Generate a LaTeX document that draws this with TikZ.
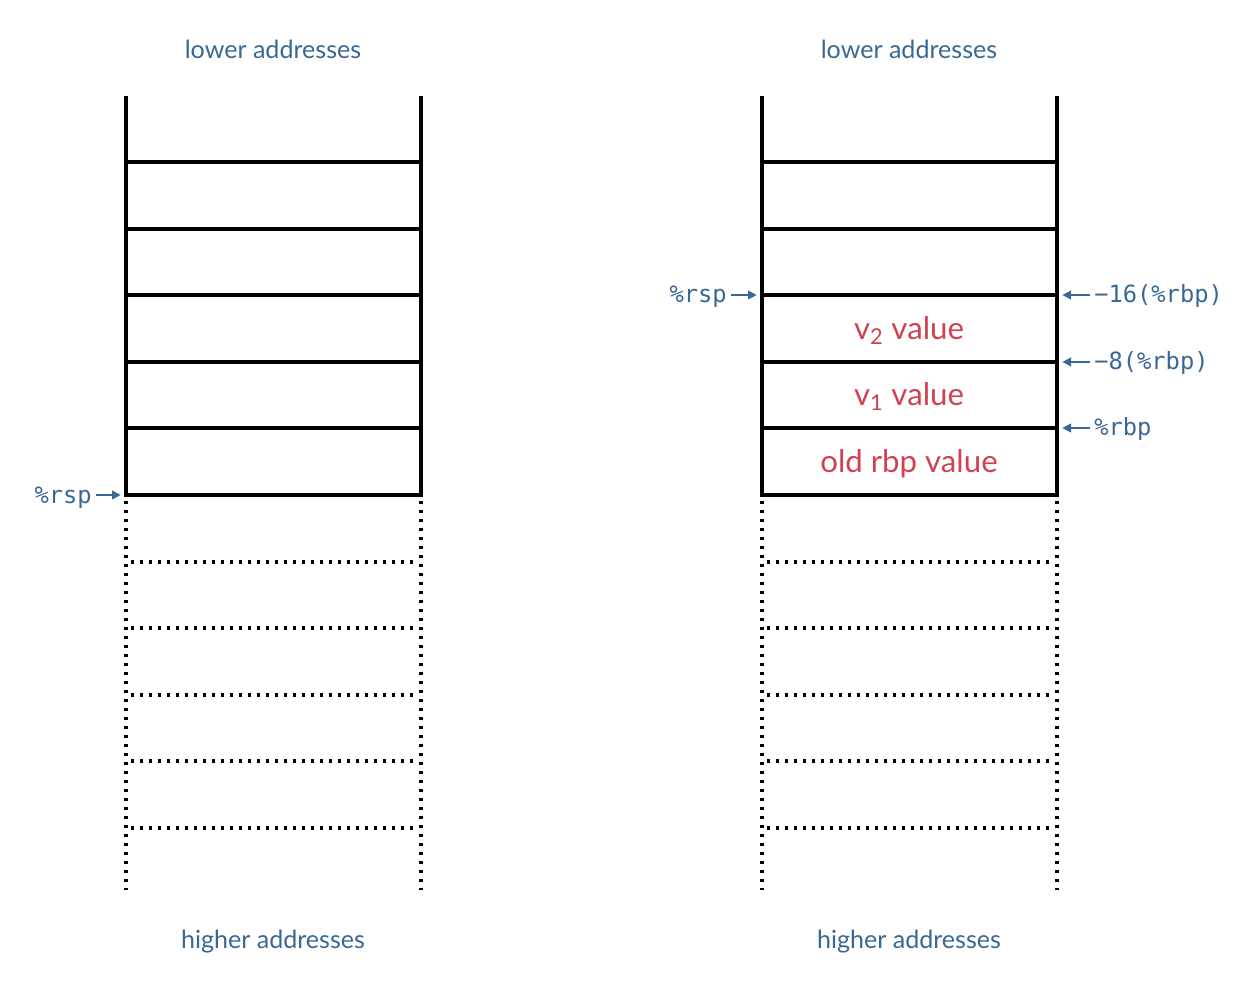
\documentclass[tikz,border=0pt]{standalone}
\usepackage{fontspec}
\setmainfont{Lato}
\setmonofont{DejaVu Sans Mono}
\usetikzlibrary{arrows.meta}
\definecolor{lblue}{RGB}{58,104,148}
\definecolor{lred}{RGB}{208,66,82}
\tikzset{
  px/.style={x=0.75pt,y=-0.75pt},
  wall/.style={line width=2.3pt,line cap=rect},
  dotwall/.style={line width=2.3pt,dash pattern=on 2.3pt off 4.45pt},
  addr/.style={text=lblue,font=\fontsize{18.8}{22}\selectfont},
  cell/.style={text=lred,font=\fontsize{23.4}{26}\selectfont},
  reg/.style={text=lblue,font=\ttfamily\fontsize{17.8}{20}\selectfont,inner sep=0pt},
  ptr/.style={draw=lblue,line width=1.3pt,-{Triangle[length=6.5pt,width=6.5pt]}},
}
\begin{document}
\begin{tikzpicture}[px]
\useasboundingbox (0,0) rectangle (1243,994);
% ---------- stacks ----------
\foreach \sx/\nm in {126/A,762/B}{
  \pgfmathsetmacro{\ex}{\sx+295}
  \draw[wall] (\sx,98) -- (\sx,495);
  \draw[wall] (\ex,98) -- (\ex,495);
  \foreach \yy in {162,229,295,362,428,495}
    \draw[wall] (\sx,\yy) -- (\ex,\yy);
  \draw[dotwall] (\sx,501) -- (\sx,890);
  \draw[dotwall] (\ex,501) -- (\ex,890);
  \foreach \yy in {562,628,695,761,828}
    \draw[dotwall] (\sx+5,\yy) -- (\ex-3,\yy);
}
% labels
\node[addr] (lowA) at (273,49) {lower addresses};
\node[addr] (lowB) at (909,49) {lower addresses};
\node[addr] (highA) at (273,942) {higher addresses};
\node[addr] (highB) at (909,942) {higher addresses};
% cell contents
\node[cell] (v2) at (909,331) {v\textsubscript{2} value};
\node[cell] (v1) at (909,397) {v\textsubscript{1} value};
\node[cell] (old) at (909,464) {old rbp value};
% line anchor points
\coordinate (LA) at (126,495);
\coordinate (LB) at (762,295);
\coordinate (R16) at (1057,295);
\coordinate (R8) at (1057,362);
\coordinate (R0) at (1057,428);
% register labels
\node[reg,anchor=mid east] (rspA) at (92,500) {\%rsp};
\node[reg,anchor=mid east] (rspB) at (727,299) {\%rsp};
\node[reg,anchor=mid west] (m16) at (1094,299) {−16(\%rbp)};
\node[reg,anchor=mid west] (m8) at (1094,366) {−8(\%rbp)};
\node[reg,anchor=mid west] (rbp) at (1094,432) {\%rbp};
% pointers
\draw[ptr,shorten <=3pt,shorten >=4pt] (rspA.east |- LA) -- (LA);
\draw[ptr,shorten <=3pt,shorten >=4pt] (rspB.east |- LB) -- (LB);
\draw[ptr,shorten <=3pt,shorten >=4pt] (m16.west |- R16) -- (R16);
\draw[ptr,shorten <=3pt,shorten >=4pt] (m8.west |- R8) -- (R8);
\draw[ptr,shorten <=3pt,shorten >=4pt] (rbp.west |- R0) -- (R0);
\end{tikzpicture}
\end{document}
